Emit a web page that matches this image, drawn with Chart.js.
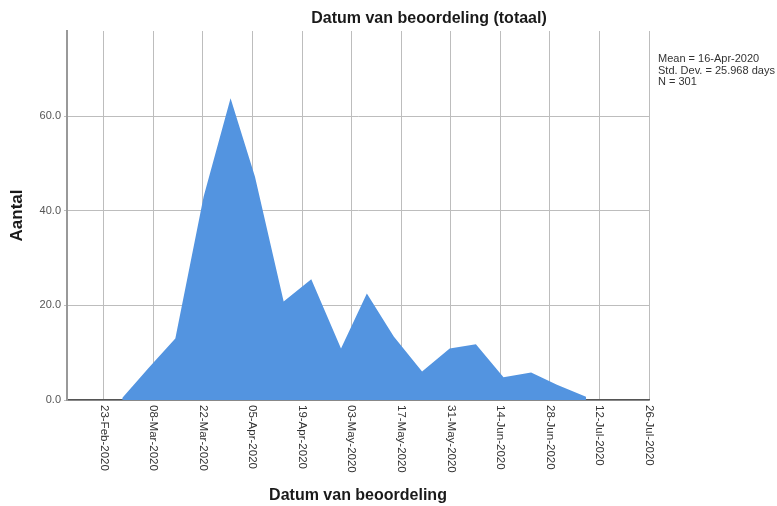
<!DOCTYPE html>
<html>
<head>
<meta charset="utf-8">
<script src="https://cdn.jsdelivr.net/npm/chart.js@4.4.1/dist/chart.umd.min.js"></script>
<style>
  html, body { margin: 0; padding: 0; background: #fff; }
  #wrap { width: 777px; height: 506px; position: relative; }
</style>
</head>
<body>
<div id="wrap"><canvas id="chart"></canvas></div>
<script>
/* Data (days counted from 23-Feb-2020) */
const pointDays = [5.2, 12.7, 20.2, 28.2, 35.8, 42.7, 50.8, 58.6, 67.0, 74.3, 81.9, 89.9, 97.7, 105.1, 112.9, 120.7, 128.0, 136.2];
const counts = [0.4, 6.8, 13.0, 43.0, 63.8, 47.2, 20.8, 25.5, 10.9, 22.5, 13.4, 6.0, 10.9, 11.8, 4.8, 5.8, 3.2, 0.7];

const tickDays = [0, 14, 28, 42, 56, 70, 84, 98, 112, 126, 140, 154];
const tickLabels = ["23-Feb-2020", "08-Mar-2020", "22-Mar-2020", "05-Apr-2020", "19-Apr-2020", "03-May-2020",
  "17-May-2020", "31-May-2020", "14-Jun-2020", "28-Jun-2020", "12-Jul-2020", "26-Jul-2020"];
const yTicks = [0, 20, 40, 60];

const title = "Datum van beoordeling (totaal)";
const xTitle = "Datum van beoordeling";
const yTitle = "Aantal";
const stats = ["Mean = 16-Apr-2020", "Std. Dev. = 25.968 days", "N = 301"];

const FONT = "Arial, 'Liberation Sans', sans-serif";

/* Texts drawn around the plot */
const textPlugin = {
  id: "texts",
  afterDraw(chart) {
    const ctx = chart.ctx;
    const xs = chart.scales.x;
    const area = chart.chartArea;
    ctx.save();

    // rotated date labels, reading top to bottom
    ctx.fillStyle = "#333";
    ctx.font = "11.5px " + FONT;
    ctx.textAlign = "left";
    ctx.textBaseline = "middle";
    tickDays.forEach((d, i) => {
      const px = xs.getPixelForValue(d);
      ctx.save();
      ctx.translate(px, area.bottom + 5);
      ctx.rotate(Math.PI / 2);
      ctx.fillText(tickLabels[i], 0, 0);
      ctx.restore();
    });

    // titles
    ctx.fillStyle = "#1a1a1a";
    ctx.font = "bold 16px " + FONT;
    ctx.textAlign = "center";
    ctx.textBaseline = "alphabetic";
    ctx.fillText(title, 429, 23);
    ctx.fillText(xTitle, (area.left + area.right) / 2, 500);

    ctx.save();
    ctx.font = "bold 17px " + FONT;
    ctx.textBaseline = "middle";
    ctx.translate(17, (area.top + area.bottom) / 2);
    ctx.rotate(-Math.PI / 2);
    ctx.fillText(yTitle, 0, 0);
    ctx.restore();

    // stats box
    ctx.fillStyle = "#333";
    ctx.font = "11px " + FONT;
    ctx.textAlign = "left";
    stats.forEach((s, i) => ctx.fillText(s, 658, 62 + i * 11.5));

    ctx.restore();
  }
};

const ctx = document.getElementById("chart").getContext("2d");
new Chart(ctx, {
  type: "line",
  data: {
    datasets: [
      {
        data: pointDays.map((d, i) => ({ x: d, y: counts[i] })),
        fill: "origin",
        backgroundColor: "#5394e0",
        borderWidth: 0,
        pointRadius: 0,
        tension: 0,
      },
    ],
  },
  options: {
    responsive: true,
    maintainAspectRatio: false,
    animation: false,
    layout: { padding: { top: 31, right: 128, bottom: 0, left: 0 } },
    plugins: { legend: { display: false }, tooltip: { enabled: false } },
    scales: {
      x: {
        type: "linear",
        min: -10.4,
        max: 154,
        afterBuildTicks: (s) => { s.ticks = tickDays.map((v) => ({ value: v })); },
        afterFit: (s) => { s.height = 106; },
        ticks: { display: false },
        grid: { color: "#bdbdbd", lineWidth: 1, drawTicks: false },
        border: { color: "#555", width: 1.5 },
      },
      y: {
        min: 0,
        max: 78,
        afterBuildTicks: (s) => { s.ticks = yTicks.map((v) => ({ value: v })); },
        afterFit: (s) => { s.width = 67; },
        ticks: {
          color: "#555",
          font: { family: FONT, size: 11 },
          padding: 3,
          callback: (v) => v.toFixed(1),
        },
        grid: { color: "#bdbdbd", lineWidth: 1, tickLength: 3 },
        border: { color: "#999", width: 2 },
      },
    },
  },
  plugins: [textPlugin],
});
</script>
</body>
</html>
